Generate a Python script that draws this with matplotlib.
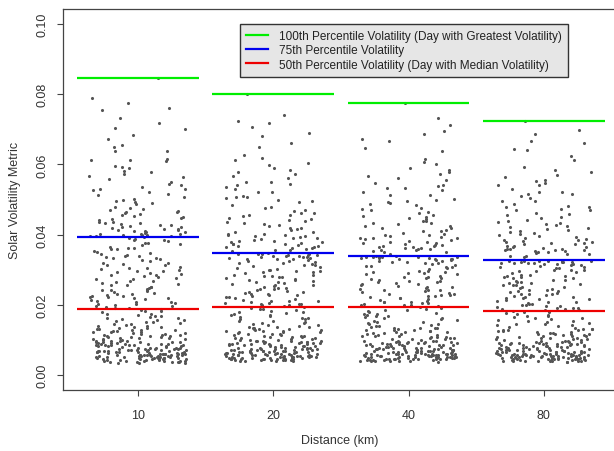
import numpy as np
import matplotlib
matplotlib.use("Agg")
import matplotlib.pyplot as plt
from matplotlib.lines import Line2D

plt.rcParams['font.family'] = ['Liberation Sans', 'DejaVu Sans']

# distance groups on the x axis
distances = ["10", "20", "40", "80"]

# daily volatility values per distance, in units of 1e-4
vol_10km = [
    52, 88, 41, 137, 66, 104, 59, 172, 45, 93, 214, 305, 248, 362, 197, 455, 612, 418, 531, 847,
    73, 38, 121, 57, 148, 84, 49, 69, 163, 112, 226, 281, 339, 190, 377, 402, 489, 563, 437, 705,
    61, 95, 44, 132, 77, 54, 181, 68, 107, 35, 258, 203, 317, 296, 351, 468, 412, 655, 520, 398,
    47, 126, 82, 58, 99, 156, 64, 39, 118, 71, 239, 272, 384, 221, 329, 593, 443, 761, 407, 480,
    90, 55, 143, 76, 48, 110, 63, 178, 86, 42, 193, 264, 309, 347, 233, 426, 574, 395, 502, 638,
    67, 101, 50, 129, 81, 36, 152, 60, 97, 74, 287, 215, 370, 252, 324, 451, 415, 789, 545, 464,
    43, 115, 70, 56, 168, 89, 46, 134, 65, 108, 201, 343, 276, 389, 230, 397, 612, 474, 433, 580,
    79, 51, 140, 62, 94, 37, 123, 72, 159, 53, 256, 299, 218, 358, 312, 508, 421, 672, 459, 396,
    58, 87, 45, 117, 68, 184, 78, 40, 103, 64, 188, 243, 335, 267, 381, 441, 549, 403, 733, 492,
    96, 57, 146, 71, 49, 124, 83, 33, 166, 60, 226, 314, 290, 374, 208, 615, 428, 517, 410, 776,
    54, 106, 75, 44, 131, 91, 62, 175, 48, 85, 261, 197, 352, 236, 327, 399, 477, 589, 446, 531,
    69, 41, 119, 80, 56, 150, 98, 66, 38, 113, 284, 246, 306, 366, 219, 536, 417, 651, 496, 408,
    85, 60, 136, 47, 102, 74, 161, 52, 92, 43, 192, 274, 340, 256, 387, 424, 568, 461, 700, 405,
    63, 127, 50, 84, 39, 109, 70, 154, 57, 97, 231, 320, 211, 293, 358, 486, 611, 432, 527, 394,
    76, 46, 120, 65, 182, 89, 53, 139, 34, 105, 269, 204, 377, 241, 332, 452, 403, 596, 719, 470,
    58, 94, 42, 128, 72, 51, 169, 81, 63, 114, 250, 301, 223, 346, 279, 413, 541, 498, 637, 422,
    88, 55, 145, 67, 100, 40, 122, 78, 59, 157, 199, 286, 363, 228, 318, 579, 436, 754, 409, 513,
    48, 111, 73, 37, 133, 86, 61, 174, 95, 54, 242, 334, 207, 296, 385, 465, 400, 558, 684, 429,
]
vol_20km = [
    63, 97, 48, 141, 75, 112, 56, 180, 42, 88, 221, 290, 247, 335, 203, 402, 566, 371, 480, 802,
    70, 45, 126, 59, 153, 92, 51, 74, 170, 108, 232, 276, 318, 199, 341, 388, 455, 530, 364, 719,
    58, 101, 40, 135, 82, 53, 189, 67, 116, 47, 264, 210, 305, 283, 343, 430, 379, 612, 495, 356,
    49, 131, 85, 61, 94, 162, 68, 43, 121, 77, 243, 268, 329, 226, 312, 551, 412, 690, 367, 447,
    93, 57, 149, 79, 50, 114, 66, 185, 90, 44, 206, 259, 301, 338, 237, 395, 521, 359, 468, 597,
    72, 106, 52, 133, 84, 41, 158, 62, 99, 76, 280, 219, 345, 254, 322, 420, 381, 708, 503, 436,
    46, 119, 71, 55, 173, 91, 48, 138, 64, 110, 201, 331, 271, 297, 229, 362, 578, 441, 399, 541,
    81, 54, 144, 65, 96, 42, 128, 73, 166, 57, 255, 292, 214, 339, 308, 470, 391, 628, 424, 352,
    60, 89, 47, 122, 69, 191, 80, 43, 105, 67, 197, 240, 326, 262, 344, 408, 507, 373, 660, 455,
    98, 59, 151, 73, 51, 127, 86, 45, 176, 62, 228, 311, 286, 334, 212, 584, 396, 483, 376, 742,
    55, 109, 78, 46, 136, 94, 64, 182, 50, 87, 266, 204, 342, 235, 320, 368, 445, 549, 415, 492,
    71, 44, 124, 83, 58, 155, 100, 68, 41, 117, 281, 249, 300, 337, 217, 510, 385, 617, 462, 374,
    87, 62, 140, 49, 104, 76, 167, 54, 95, 46, 194, 273, 328, 257, 346, 393, 536, 427, 681, 366,
    65, 130, 52, 86, 42, 112, 72, 160, 59, 99, 234, 316, 208, 295, 340, 452, 574, 403, 498, 355,
    78, 48, 123, 67, 187, 92, 55, 143, 40, 107, 270, 202, 333, 244, 324, 418, 372, 560, 724, 439,
    61, 97, 45, 132, 74, 53, 171, 83, 65, 118, 251, 298, 223, 336, 278, 383, 506, 461, 603, 390,
    90, 57, 147, 69, 102, 43, 125, 80, 61, 163, 200, 284, 344, 230, 314, 543, 407, 651, 378, 477,
    51, 113, 75, 47, 137, 88, 63, 178, 96, 56, 245, 330, 211, 293, 347, 433, 361, 522, 590, 398,
]
vol_40km = [
    57, 92, 44, 139, 70, 108, 53, 176, 47, 85, 218, 287, 243, 330, 198, 398, 557, 366, 472, 775,
    68, 42, 123, 61, 150, 89, 50, 72, 168, 104, 229, 271, 312, 196, 335, 380, 448, 521, 359, 696,
    60, 98, 39, 133, 79, 55, 186, 65, 112, 46, 260, 207, 301, 279, 337, 424, 371, 600, 487, 350,
    51, 128, 81, 58, 91, 160, 66, 41, 118, 75, 240, 265, 325, 222, 308, 540, 405, 672, 362, 440,
    90, 54, 146, 77, 49, 111, 63, 182, 87, 43, 204, 255, 297, 333, 234, 389, 512, 354, 461, 585,
    69, 103, 51, 130, 82, 40, 155, 60, 96, 73, 276, 216, 338, 250, 318, 414, 375, 731, 494, 429,
    45, 116, 68, 56, 170, 88, 47, 135, 62, 107, 199, 327, 267, 293, 226, 357, 566, 434, 392, 532,
    78, 52, 141, 63, 93, 41, 125, 71, 163, 58, 252, 288, 211, 334, 304, 463, 384, 615, 418, 346,
    59, 86, 46, 119, 67, 189, 77, 42, 102, 65, 195, 237, 321, 258, 336, 401, 498, 367, 646, 449,
    95, 57, 148, 70, 50, 124, 83, 44, 173, 61, 225, 307, 282, 329, 209, 572, 390, 476, 369, 712,
    53, 106, 76, 45, 133, 91, 62, 179, 49, 84, 262, 201, 335, 232, 316, 362, 438, 538, 409, 485,
    70, 43, 121, 80, 57, 152, 97, 66, 40, 114, 277, 246, 296, 332, 214, 502, 378, 606, 455, 368,
    84, 60, 137, 48, 101, 74, 165, 53, 93, 45, 192, 269, 323, 253, 338, 386, 527, 420, 666, 360,
    64, 127, 51, 83, 41, 109, 70, 157, 58, 96, 231, 311, 205, 291, 331, 444, 561, 396, 489, 349,
    76, 47, 120, 66, 184, 90, 54, 140, 38, 104, 266, 200, 328, 241, 319, 411, 365, 548, 688, 432,
    61, 94, 44, 129, 73, 52, 168, 80, 64, 115, 248, 294, 220, 331, 274, 377, 497, 453, 590, 383,
    88, 56, 144, 67, 99, 42, 122, 78, 59, 161, 197, 280, 337, 227, 310, 533, 400, 638, 372, 469,
    50, 110, 73, 46, 134, 86, 61, 175, 94, 55, 242, 324, 208, 290, 336, 425, 355, 514, 577, 391,
]
vol_80km = [
    55, 89, 43, 132, 68, 104, 51, 170, 46, 82, 209, 276, 233, 318, 190, 385, 540, 356, 458, 724,
    66, 41, 118, 59, 144, 86, 49, 70, 161, 100, 219, 261, 300, 187, 323, 368, 433, 505, 349, 661,
    58, 94, 38, 128, 77, 53, 179, 63, 108, 45, 250, 198, 290, 268, 325, 410, 360, 578, 471, 340,
    49, 123, 79, 56, 88, 154, 64, 40, 113, 73, 230, 255, 313, 213, 297, 522, 393, 645, 352, 426,
    87, 52, 141, 75, 47, 107, 61, 176, 84, 42, 196, 245, 286, 321, 224, 377, 495, 344, 447, 563,
    67, 99, 50, 125, 80, 39, 149, 58, 93, 71, 265, 207, 326, 240, 306, 401, 364, 698, 478, 416,
    44, 112, 66, 54, 164, 85, 46, 130, 60, 103, 191, 315, 257, 282, 217, 347, 548, 421, 381, 515,
    76, 51, 136, 61, 90, 40, 120, 69, 157, 56, 242, 277, 203, 322, 293, 449, 373, 592, 405, 337,
    57, 83, 45, 115, 65, 182, 75, 41, 98, 63, 186, 228, 309, 248, 324, 389, 482, 357, 623, 436,
    92, 55, 142, 68, 48, 119, 80, 43, 167, 59, 216, 295, 271, 317, 201, 553, 379, 462, 359, 687,
    52, 102, 74, 44, 128, 88, 60, 173, 48, 81, 252, 193, 323, 223, 304, 352, 425, 520, 397, 470,
    68, 42, 117, 78, 55, 146, 94, 64, 39, 110, 266, 236, 285, 320, 205, 486, 367, 585, 441, 358,
    81, 58, 132, 47, 97, 72, 159, 52, 90, 44, 185, 259, 311, 243, 326, 375, 510, 408, 642, 350,
    62, 122, 50, 80, 40, 105, 68, 151, 57, 93, 222, 299, 197, 280, 319, 430, 542, 384, 474, 339,
    74, 46, 116, 64, 178, 87, 53, 135, 37, 101, 256, 192, 316, 231, 307, 399, 355, 530, 666, 419,
    59, 91, 43, 124, 71, 51, 162, 77, 62, 111, 238, 283, 211, 318, 263, 366, 480, 438, 571, 372,
    85, 54, 139, 65, 96, 41, 118, 76, 58, 155, 189, 270, 325, 218, 298, 515, 388, 613, 361, 455,
    49, 106, 71, 45, 129, 83, 60, 168, 91, 54, 232, 312, 200, 279, 324, 412, 346, 497, 557, 380,
]

# percentile lines
p100 = [0.0847, 0.0802, 0.0775, 0.0724]
p75 = [0.0392, 0.0347, 0.0338, 0.0327]
p50 = [0.0187, 0.0194, 0.0193, 0.0183]

groups = [vol_10km, vol_20km, vol_40km, vol_80km]

fig = plt.figure(figsize=(6.14, 4.52), dpi=100)
# plot box runs past the right edge of the image, like the original
ax = fig.add_axes([63 / 614, 61 / 452, 570 / 614, 381 / 452])

for g, vals in enumerate(groups):
    y = np.array(vals) / 10000.0
    # fixed strip jitter (hash of the index, same result every run)
    idx = np.arange(len(y)) + 1000 * g
    frac = (np.sin(idx * 12.9898 + 78.233) * 43758.5453) % 1.0
    x = (g + 1) + 0.36 * (2 * frac - 1)
    ax.scatter(x, y, s=5, color="#555555", linewidths=0, zorder=2)

for g in range(len(distances)):
    pos = g + 1
    ax.hlines(p100[g], pos - 0.45, pos + 0.45, color="#00ee00", lw=1.6, zorder=3)
    ax.hlines(p75[g], pos - 0.45, pos + 0.45, color="#0000ee", lw=1.6, zorder=3)
    ax.hlines(p50[g], pos - 0.45, pos + 0.45, color="#ee0000", lw=1.6, zorder=3)

ax.set_xlim(0.446, 0.446 + 570 / 135.3)
ax.set_ylim(-0.0043, 0.1043)
ax.set_xticks(range(1, 5))
ax.set_xticklabels(distances)
ax.set_yticks([0.0, 0.02, 0.04, 0.06, 0.08, 0.10])
ax.set_yticklabels(["0.00", "0.02", "0.04", "0.06", "0.08", "0.10"],
                   rotation=90, va="center")
ax.tick_params(axis="both", labelsize=9, colors="#444444", labelcolor="#333333",
               length=4.5, width=0.8)
ax.tick_params(axis="x", pad=9)
ax.tick_params(axis="y", pad=6)
for sp in ax.spines.values():
    sp.set_color("#444444")
    sp.set_linewidth(0.9)

fig.text(15 / 614, 1 - 200 / 452, "Solar Volatility Metric", rotation=90,
         ha="center", va="center", fontsize=9, color="#333333")
fig.text(340 / 614, 1 - 441 / 452, "Distance (km)", ha="center", va="center",
         fontsize=9, color="#333333")

handles = [Line2D([], [], color="#00ee00", lw=1.6),
           Line2D([], [], color="#0000ee", lw=1.6),
           Line2D([], [], color="#ee0000", lw=1.6)]
labels = ["100th Percentile Volatility (Day with Greatest Volatility)",
          "75th Percentile Volatility",
          "50th Percentile Volatility (Day with Median Volatility)"]
leg = ax.legend(handles, labels, loc="upper left",
                bbox_to_anchor=(240 / 614, 1 - 25 / 452),
                bbox_transform=fig.transFigure, fontsize=8.5, frameon=True,
                fancybox=False, framealpha=1, facecolor="#e6e6e6",
                edgecolor="#333333", handlelength=1.9, handletextpad=0.9,
                labelspacing=0.2, borderpad=0.5, borderaxespad=0)
leg.get_frame().set_linewidth(1.0)
for t in leg.get_texts():
    t.set_color("#222222")

fig.savefig("out.png", dpi=100)
